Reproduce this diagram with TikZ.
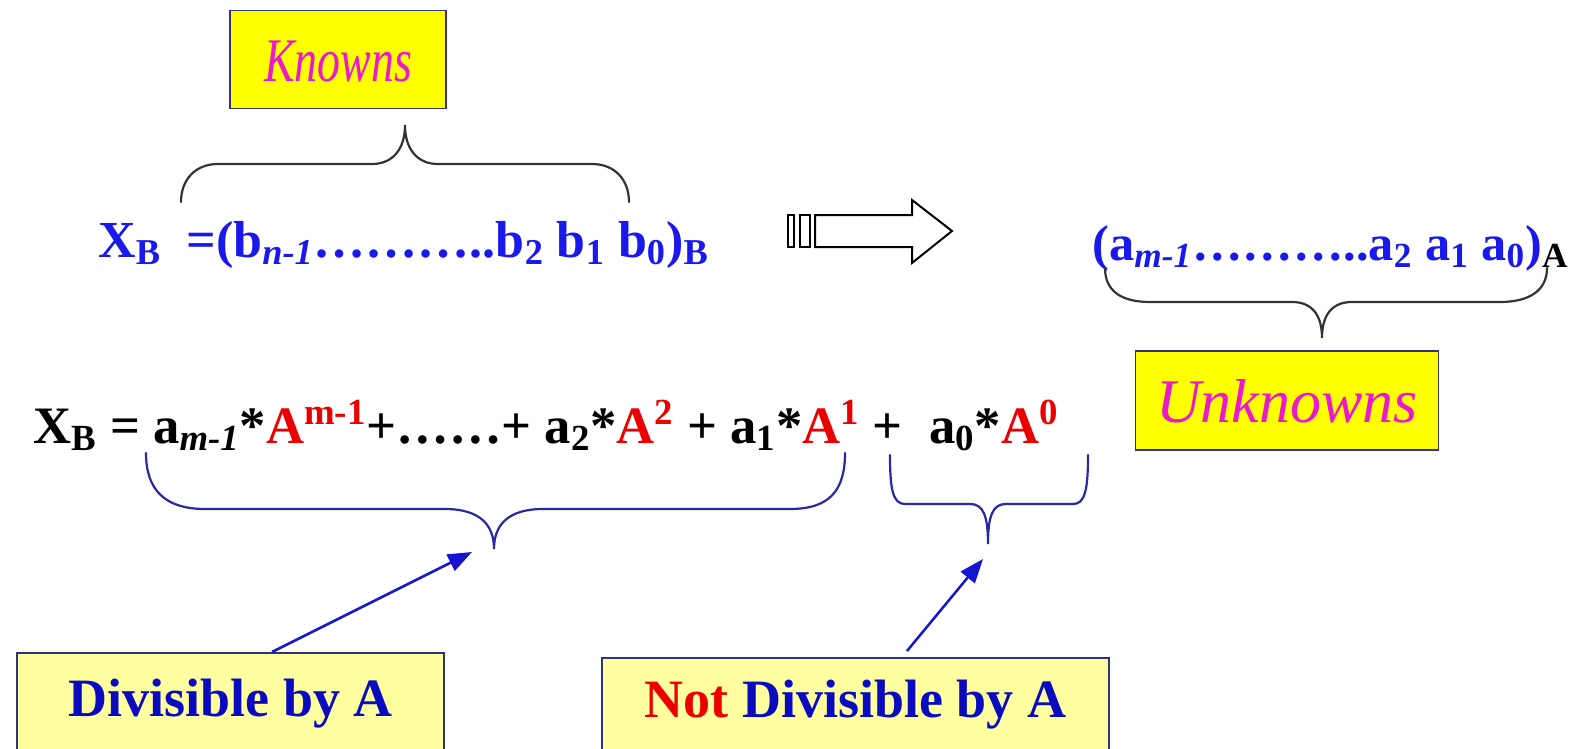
\documentclass[tikz,border=0pt]{standalone}
\usepackage{fontspec}
\newfontfamily\slidefont{Liberation Serif}
\usetikzlibrary{positioning, arrows.meta, calc}

\definecolor{txtblue}{RGB}{25,25,235}
\definecolor{boxblue}{RGB}{10,10,190}
\definecolor{eqred}{RGB}{235,0,0}
\definecolor{labelpink}{RGB}{235,25,205}
\definecolor{brightyellow}{RGB}{255,255,0}
\definecolor{paleyellow}{RGB}{255,255,160}
\definecolor{edgenavy}{RGB}{50,50,120}
\definecolor{bracenavy}{RGB}{40,40,160}
\definecolor{arrowblue}{RGB}{20,20,210}

\newcommand{\rd}[1]{\textcolor{eqred}{#1}}

\begin{document}
\begin{tikzpicture}[x=0.5pt, y=0.5pt]
  \tikzset{
    labelbox/.style={draw=edgenavy, line width=0.75pt, fill=brightyellow, anchor=north,
      inner ysep=0pt, text=labelpink, font=\slidefont\fontsize{31}{31}\selectfont\itshape},
    notebox/.style={draw=edgenavy, line width=0.75pt, fill=paleyellow, anchor=north,
      inner ysep=0pt, text=boxblue, font=\slidefont\fontsize{27}{27}\selectfont\bfseries},
    topline/.style={inner sep=0pt, anchor=base west, text=txtblue,
      font=\slidefont\fontsize{26}{26}\selectfont\bfseries},
    eqline/.style={inner sep=0pt, anchor=base west,
      font=\slidefont\fontsize{26.3}{26.3}\selectfont\bfseries},
    curly/.style={line width=1.1pt, line cap=round},
    pointer/.style={arrowblue, line width=1.25pt, -{Triangle[length=12pt, width=9pt]}}
  }
  \useasboundingbox (0,0) rectangle (1580,-749);

  % Boxes
  \node[labelbox, minimum width=108, text height=35.5, text depth=13.5] (known) at (338,-10) {\scalebox{0.74}[1]{Knowns}};
  \node[labelbox, minimum width=151.5, text height=36, text depth=13.5] (unknown) at (1287,-350) {Unknowns};
  \node[notebox, minimum width=213.5, text height=32, text depth=22] (divis) at (230.5,-652) {Divisible by A};
  \node[notebox, minimum width=253.5, text height=30, text depth=20] (notdivis) at (855.5,-657) {\rd{Not} Divisible by A};

  % Representations
  \node[topline] (xb) at (98,-257) {X\textsubscript{B}};
  \node[topline] (bseq) at (186,-257) {=(b\textsubscript{\itshape n-1}………..b\textsubscript{2} b\textsubscript{1} b\textsubscript{0})\textsubscript{B}};
  \node[topline, font=\slidefont\fontsize{25.2}{25.2}\selectfont\bfseries] (aseq) at (1092,-260) {(a\textsubscript{\itshape m-1}………..a\textsubscript{2} a\textsubscript{1} a\textsubscript{0})\textsubscript{\color{black}A}};

  % Expansion
  \node[eqline] (expansion) at (33,-443) {X\textsubscript{B} = a\textsubscript{\itshape m-1}*\rd{A\textsuperscript{m-1}}+……+ a\textsubscript{2}*\rd{A\textsuperscript{2}} + a\textsubscript{1}*\rd{A\textsuperscript{1}} + \ a\textsubscript{0}*\rd{A\textsuperscript{0}}};

  % Conversion arrow
  \draw[line width=1pt, line join=miter] (815,-215) -- (912,-215) -- (912,-200) -- (952,-231)
    -- (912,-263) -- (912,-247) -- (815,-247) -- cycle;
  \draw[line width=1pt] (788,-215) rectangle (794,-247);
  \draw[line width=1pt] (800,-215) rectangle (810,-247);

  % Braces
  \draw[curly, black!80] (181,-202) .. controls (181,-180) and (195,-164) .. (218,-164) -- (372,-164)
    .. controls (392,-164) and (405,-150) .. (405,-125)
    .. controls (405,-150) and (418,-164) .. (438,-164) -- (592,-164)
    .. controls (615,-164) and (629,-180) .. (629,-202);
  \draw[curly, black!80] (1105,-268) .. controls (1105,-290) and (1120,-302) .. (1150,-302) -- (1292,-302)
    .. controls (1312,-302) and (1322,-315) .. (1322,-338)
    .. controls (1322,-315) and (1332,-302) .. (1352,-302) -- (1500,-302)
    .. controls (1530,-302) and (1547,-290) .. (1547,-268);
  \draw[curly, bracenavy] (146,-453) .. controls (146,-490) and (165,-509) .. (205,-509) -- (445,-509)
    .. controls (480,-509) and (494,-525) .. (494,-549)
    .. controls (494,-525) and (508,-509) .. (543,-509) -- (790,-509)
    .. controls (830,-509) and (845,-490) .. (845,-453);
  \draw[curly, bracenavy] (890,-455) .. controls (890,-490) and (893,-504) .. (905,-504) -- (970,-504)
    .. controls (983,-504) and (988,-515) .. (988,-544)
    .. controls (988,-515) and (993,-504) .. (1006,-504) -- (1073,-504)
    .. controls (1085,-504) and (1088,-490) .. (1088,-455);

  % Pointers
  \coordinate (tipL) at (472,-552);
  \coordinate (tipR) at (983,-559);
  \draw[pointer] ([xshift=20.75pt]divis.north) -- (tipL);
  \draw[pointer] ([xshift=25.75pt, yshift=3pt]notdivis.north) -- (tipR);
\end{tikzpicture}
\end{document}
